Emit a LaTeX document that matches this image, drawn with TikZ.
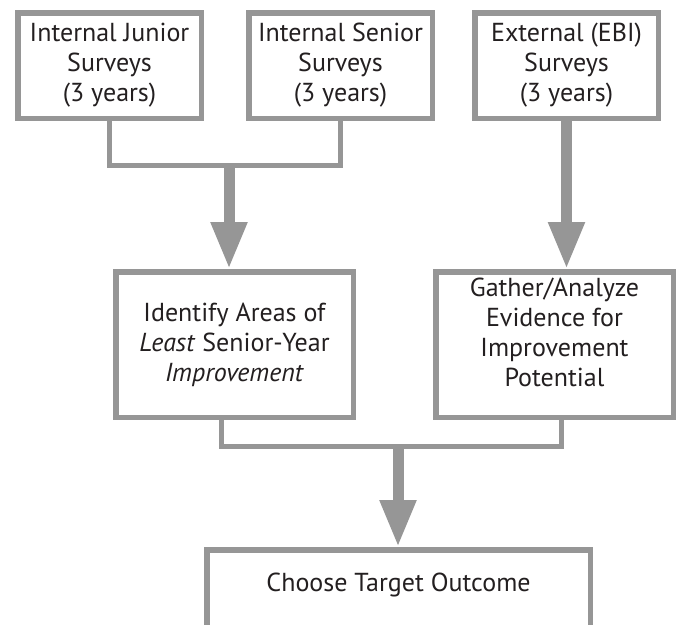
\documentclass[tikz,border=0pt]{standalone}
\usepackage{fontspec}
\setmainfont{PT Sans}
\usepackage{tikz}
\usetikzlibrary{positioning,arrows.meta}
\definecolor{linegray}{RGB}{150,150,150}
\definecolor{textgray}{RGB}{35,31,32}

\begin{document}
\begin{tikzpicture}[x=1pt, y=-1pt,
	framed/.style={rectangle, draw=linegray, line width=5.5pt, text=textgray, align=center, font=\fontsize{26}{30}\selectfont, inner sep=0},
	surveybox/.style={framed, minimum width=183.5pt, minimum height=105.5pt},
	stepbox/.style={framed, minimum width=237.5pt, minimum height=145.5pt},
	goalbox/.style={framed, minimum width=383.5pt, inner ysep=22pt, text height=20pt, text depth=70pt},
	link/.style={draw=linegray, line width=5pt},
	bigarrow/.style={draw=linegray, line width=11pt, -{Triangle[length=47pt,width=34pt]}}]

	\useasboundingbox (0,0) rectangle (680,624);

	\node[surveybox] (junior) at (109.5,65.5) {Internal Junior\\Surveys\\(3 years)};
	\node[surveybox, right=42pt of junior] (senior) {Internal Senior\\Surveys\\(3 years)};
	\node[surveybox, right=37pt of senior] (ebi) {External (EBI)\\Surveys\\(3 years)};

	\node[stepbox, anchor=north west] (identify) at (113,269) {Identify Areas of\\\textit{Least} Senior-Year\\\textit{Improvement}};
	\node[stepbox, right=77pt of identify] (gather) {Gather/Analyze\\Evidence for\\Improvement\\Potential\\[-5pt]\mbox{}};

	\node[goalbox, anchor=north] (target) at (398.5,547) {Choose Target Outcome};

	\coordinate (topjoin) at (229,165);
	\coordinate (botjoin) at (398,446);

	\draw[link] (junior.south) |- (topjoin) -| (senior.south);
	\draw[bigarrow] (topjoin) -- (topjoin |- identify.north);
	\draw[bigarrow] (ebi.south) -- (ebi.south |- gather.north);

	\draw[link] ([xshift=-13pt]identify.south) |- (botjoin) -| ([xshift=6.5pt]gather.south);
	\draw[bigarrow] (botjoin) -- (botjoin |- target.north);
\end{tikzpicture}
\end{document}
